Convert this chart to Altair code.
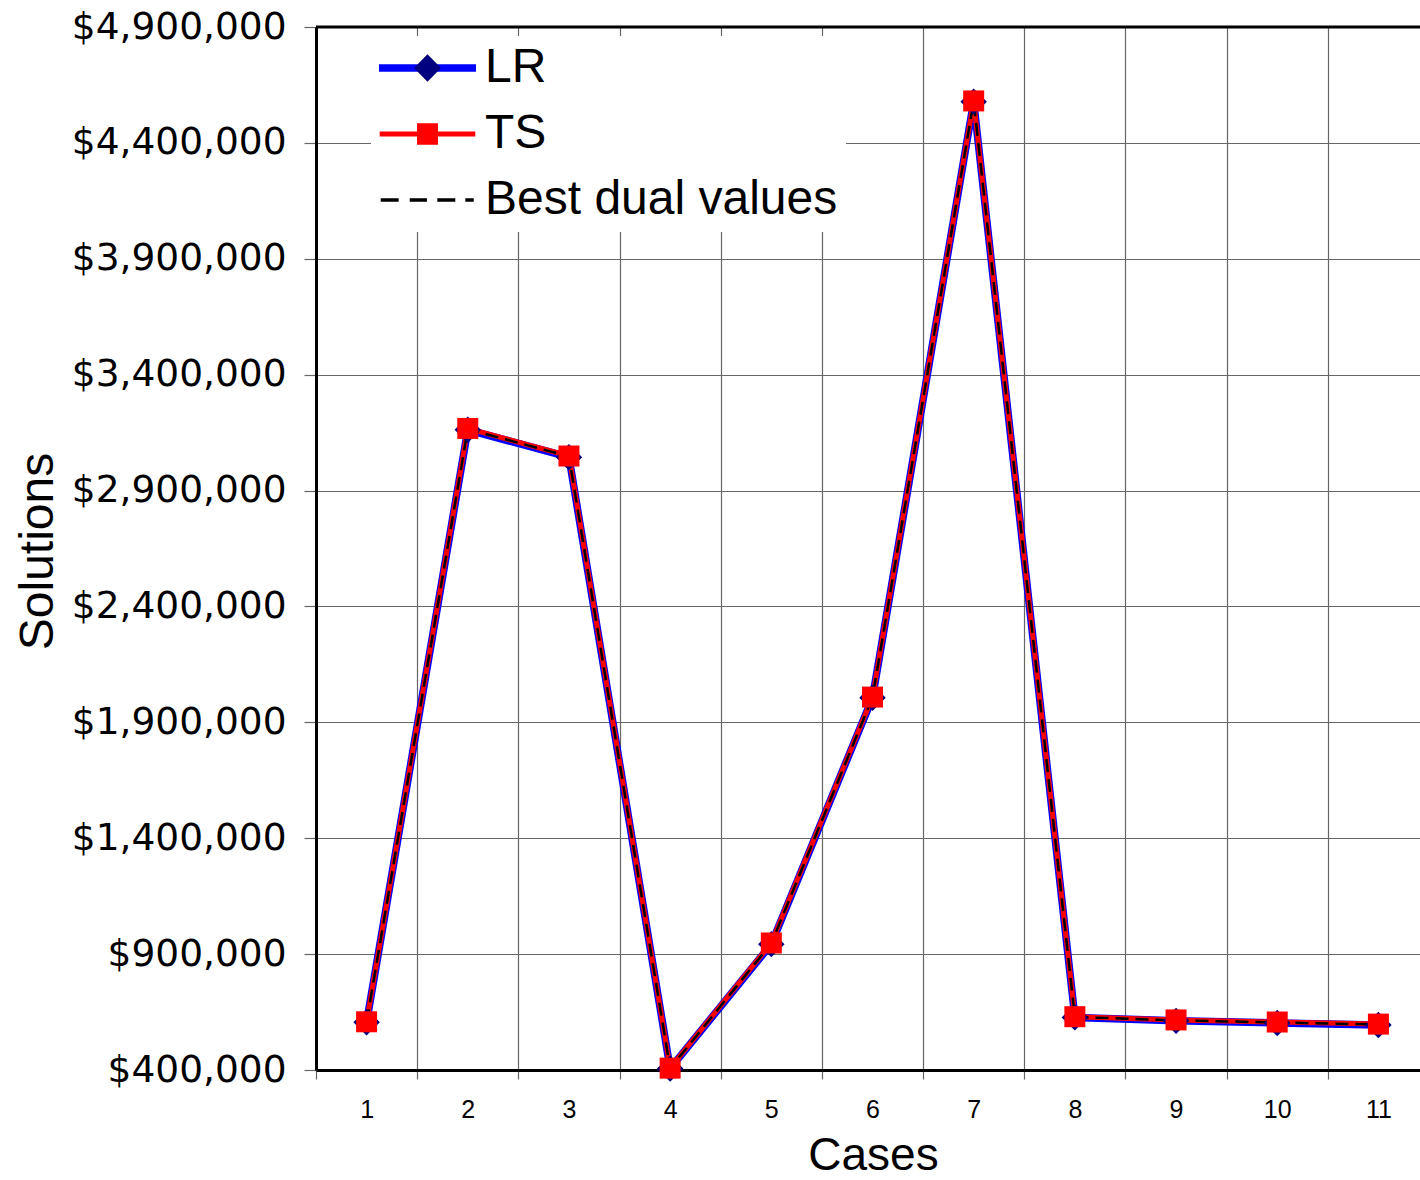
import altair as alt
import pandas as pd

# ---------------- data ----------------
cases = list(range(1, 12))
series_names = ["LR", "TS", "Best dual values"]
marker_keys = ["mLR", "mTS", "mBest dual values"]

lr_values = [606000, 3162000, 3044000, 406000, 943000, 2006000, 4578000, 627000, 612000, 603000, 594000]
ts_values = [608000, 3168000, 3049000, 408000, 948000, 2009000, 4581000, 630000, 616000, 607000, 598000]
best_dual_values = [607000, 3165000, 3047000, 407000, 946000, 2008000, 4580000, 629000, 614000, 605000, 596000]

y_min = 400000
y_max = 4900000
y_tick_values = [400000, 900000, 1400000, 1900000, 2400000, 2900000, 3400000, 3900000, 4400000, 4900000]

rows = []
for name, vals in zip(series_names, [lr_values, ts_values, best_dual_values]):
    for c, v in zip(cases, vals):
        rows.append({"case": c, "value": v, "series": name})
df = pd.DataFrame(rows)
top_df = pd.DataFrame({"top": [y_max]})

# ---------------- styles ----------------
BLUE = "#0000FF"
RED = "#FF0000"
NAVY = "#000080"
GRID = "#666666"

# legend symbol paths (unit square -1..1, symbol size 97px)
ends = "M-1,0h0M1,0h0"
path_lr = "M-1,-0.075H1V0.075H-1Z"
path_ts = ends + "M-0.986,-0.052H0.986V0.052H-0.986Z"
path_dash = (ends +
             "M-0.965,-0.038H-0.594V0.038H-0.965Z"
             "M-0.367,-0.038H-0.010V0.038H-0.367Z"
             "M0.202,-0.038H0.573V0.038H0.202Z"
             "M0.779,-0.038H0.953V0.038H0.779Z")
path_diamond = ends + "M-0.278,0L0,-0.282L0.278,0L0,0.282Z"
path_square = ends + "M-0.216,-0.22H0.216V0.22H-0.216Z"
path_none = ends

x_axis = alt.Axis(
    title="Cases", titleFont="Liberation Sans", titleFontSize=46, titleFontWeight="normal",
    titleColor="black", titleX=557, titleY=99.5, titleBaseline="alphabetic", titleAlign="center",
    labelFont="Liberation Sans", labelFontSize=25, labelColor="black", labelAngle=0,
    labelBaseline="alphabetic", labelPadding=38.5, labelFlush=False, labelOverlap=False,
    tickBand="extent", ticks=True, tickSize=9, tickColor=GRID, tickWidth=1.2,
    grid=True, gridColor=GRID, gridWidth=1.2,
    domain=True, domainColor="black", domainWidth=3,
)
y_axis = alt.Axis(
    title="Solutions", titleFont="Liberation Sans", titleFontSize=48, titleFontWeight="normal",
    titleColor="black", titleX=-264, titleY=524, titleAngle=270, titleBaseline="alphabetic",
    titleAlign="center",
    values=y_tick_values, format="$,.0f",
    labelFont="DejaVu Sans", labelFontSize=37.5, labelColor="black", labelPadding=18,
    labelFlush=False, labelOverlap=False, labelBaseline="middle", labelLimit=400,
    tickSize=12, tickColor=GRID, tickWidth=1.2,
    grid=True, gridColor=GRID, gridWidth=1.2,
    domain=True, domainColor="black", domainWidth=3,
)

x_scale = alt.Scale(type="band", paddingInner=0, paddingOuter=0, range=[0, 1113])
y_scale = alt.Scale(domain=[y_min, y_max], nice=False, zero=False)

x_enc = alt.X("case:O", scale=x_scale, axis=x_axis)
y_enc = alt.Y("value:Q", scale=y_scale, axis=y_axis)

base = alt.Chart(df)

line_lr = base.transform_filter(alt.datum.series == "LR").mark_line(
    color=BLUE, strokeWidth=7.5, strokeJoin="round").encode(x=x_enc, y=y_enc)
line_ts = base.transform_filter(alt.datum.series == "TS").mark_line(
    color=RED, strokeWidth=5, strokeJoin="round").encode(x=x_enc, y=y_enc)
line_dual = base.transform_filter(alt.datum.series == "Best dual values").mark_line(
    color="black", strokeWidth=2.5, strokeDash=[13, 7], strokeJoin="round").encode(x=x_enc, y=y_enc)

pts_lr = base.transform_filter(alt.datum.series == "LR").mark_point(
    shape="diamond", filled=True, size=700, color=NAVY, opacity=1, strokeWidth=0).encode(x=x_enc, y=y_enc)
pts_ts = base.transform_filter(alt.datum.series == "TS").mark_point(
    shape="square", filled=True, size=441, color=RED, opacity=1, strokeWidth=0).encode(x=x_enc, y=y_enc)

top_rule = alt.Chart(top_df).mark_rule(color="black", strokeWidth=3).encode(
    y=alt.Y("top:Q", scale=y_scale, axis=y_axis))

legend_common = dict(
    title=None, orient="none", legendX=55, legendY=9, padding=8,
    symbolSize=9409, symbolStrokeWidth=0, clipHeight=48,
    labelFont="Liberation Sans", labelFontSize=48, labelColor="black",
    labelOffset=9, rowPadding=18, labelLimit=600,
)
legend_a = alt.Legend(fillColor="white", **legend_common)
legend_b = alt.Legend(labelExpr="''", **legend_common)

carrier_a = base.transform_filter("false").mark_point(filled=True, opacity=1).encode(
    color=alt.Color("series:N", scale=alt.Scale(domain=series_names, range=[BLUE, RED, "black"]),
                    legend=legend_a),
    shape=alt.Shape("series:N", scale=alt.Scale(domain=series_names, range=[path_lr, path_ts, path_dash]),
                    legend=legend_a),
)
carrier_b = base.transform_filter("false").transform_calculate(
    marker="'m' + datum.series").mark_point(filled=True, opacity=1).encode(
    fill=alt.Fill("marker:N", scale=alt.Scale(domain=marker_keys, range=[NAVY, RED, "black"]),
                  legend=legend_b),
    shape=alt.Shape("marker:N", scale=alt.Scale(domain=marker_keys, range=[path_diamond, path_square, path_none]),
                    legend=legend_b),
)

chart = alt.layer(
    line_lr, line_ts, line_dual, pts_lr, pts_ts, top_rule, carrier_a, carrier_b
).resolve_scale(
    color="independent", fill="independent", shape="independent"
).properties(
    width=1104, height=1043,
    padding={"left": 316, "top": 27, "right": 0, "bottom": 110},
    autosize=alt.AutoSizeParams(type="none"),
    background="white",
).configure_view(stroke=None)

chart.save("out.html", embed_options={"renderer": "svg", "actions": False})
